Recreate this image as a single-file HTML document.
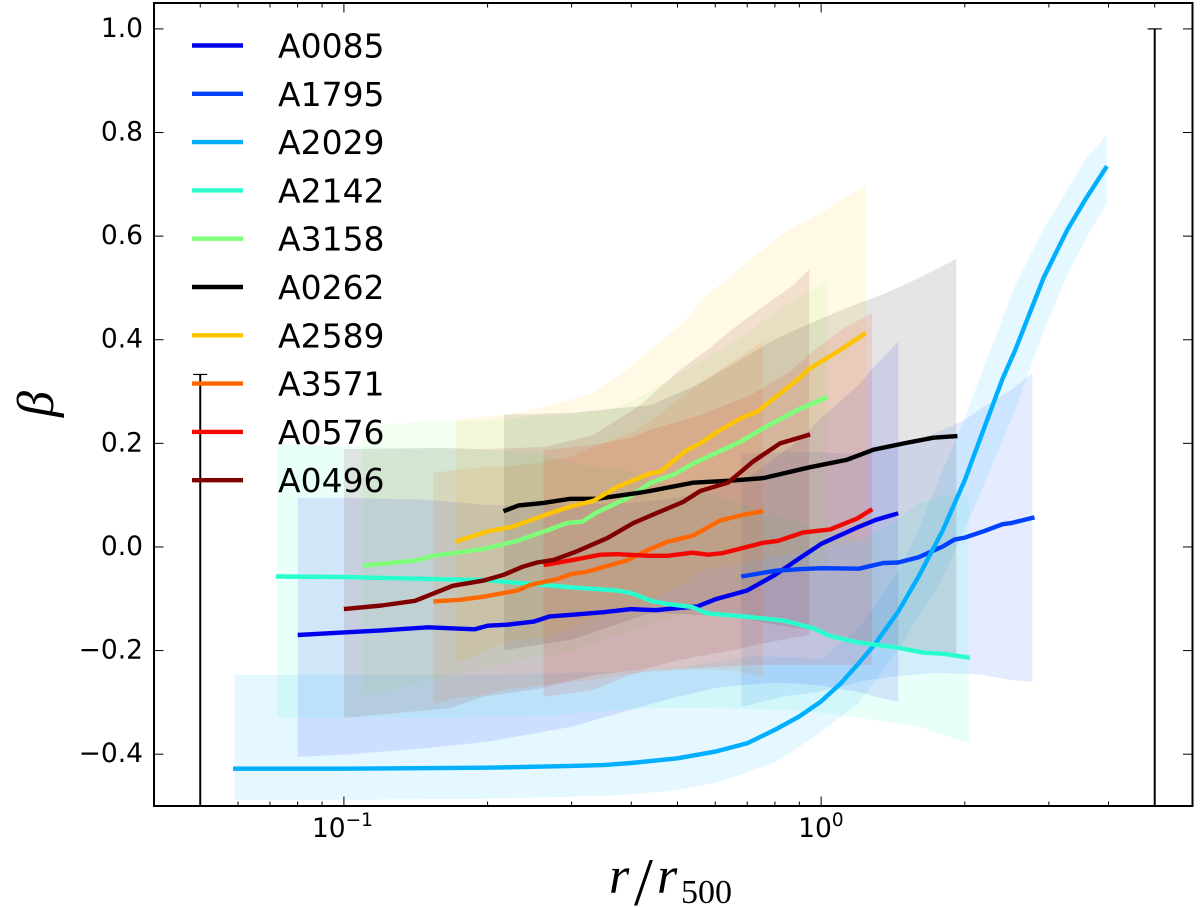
<!DOCTYPE html>
<html>
<head>
<meta charset="utf-8">
<title>Beta profiles</title>
<style>
html,body{margin:0;padding:0;background:#fff;width:1200px;height:907px;overflow:hidden;}
svg{display:block;}
text{font-family:"DejaVu Sans","Liberation Sans",sans-serif;fill:#000;}
.math{font-family:"Liberation Serif",serif;font-style:italic;}
.sub{font-family:"Liberation Serif",serif;font-style:normal;}
</style>
</head>
<body>
<svg id="chart" xmlns="http://www.w3.org/2000/svg" width="1200" height="907" viewBox="0 0 1200 907">
<defs><clipPath id="plot-clip"><rect x="154" y="3" width="1038.5" height="803"/></clipPath></defs>
<g id="bands" clip-path="url(#plot-clip)"></g>
<g id="errorbars" clip-path="url(#plot-clip)"></g>
<g id="lines" clip-path="url(#plot-clip)"></g>
<g id="axes"></g>
<g id="legend"></g>
<text class="math" y="893" font-size="52"><tspan x="609">r</tspan><tspan class="sub" x="634" dy="12" font-size="68">/</tspan><tspan x="657" dy="-12">r</tspan><tspan class="sub" x="681" dy="10" font-size="34">500</tspan></text>
<text class="math" font-size="52" transform="translate(53,404) rotate(-90)" text-anchor="middle">β</text>
</svg>
<script>
const xTicksMajor = [0.1, 1];
const xTickExponents = ["\u22121", "0"];
const xTicksMinor = [0.05, 0.06, 0.07, 0.08, 0.09, 0.2, 0.3, 0.4, 0.5, 0.6, 0.7, 0.8, 0.9, 2, 3, 4, 5, 6];
const yTicks = [-0.4, -0.2, 0, 0.2, 0.4, 0.6, 0.8, 1.0];
const yTickLabels = ["\u22120.4", "\u22120.2", "0.0", "0.2", "0.4", "0.6", "0.8", "1.0"];

const seriesNames = ["A0085", "A1795", "A2029", "A2142", "A3158", "A0262", "A2589", "A3571", "A0576", "A0496"];

const a0085R = [0.08,0.1,0.12,0.15,0.188,0.2,0.22,0.25,0.27,0.3,0.35,0.4,0.45,0.5,0.55,0.6,0.7,0.8,0.9,1.0,1.2,1.3,1.45];
const a0085Beta = [-0.170,-0.165,-0.161,-0.155,-0.159,-0.152,-0.150,-0.144,-0.134,-0.131,-0.126,-0.120,-0.122,-0.118,-0.115,-0.101,-0.084,-0.054,-0.022,0.006,0.039,0.052,0.065];
const a0085BandR = [0.08,0.1,0.15,0.2,0.3,0.4,0.5,0.6,0.7,0.8,0.9,1,1.2,1.3,1.45];
const a0085Hi = [0.095,0.095,0.091,0.081,0.081,0.085,0.095,0.110,0.133,0.172,0.206,0.249,0.313,0.351,0.396];
const a0085Lo = [-0.405,-0.401,-0.388,-0.376,-0.347,-0.314,-0.289,-0.272,-0.266,-0.262,-0.264,-0.268,-0.280,-0.289,-0.299];

const a1795R = [0.68,0.8,0.9,1.0,1.2,1.35,1.45,1.6,1.7,1.8,1.9,2.0,2.2,2.4,2.5,2.8];
const a1795Beta = [-0.057,-0.046,-0.043,-0.041,-0.042,-0.031,-0.030,-0.020,-0.009,0.001,0.014,0.018,0.031,0.044,0.046,0.057];
const a1795BandR = [0.68,0.83,0.98,1.25,1.45,1.72,2,2.18,2.5,2.77];
const a1795Hi = [0.181,0.183,0.183,0.179,0.195,0.218,0.245,0.270,0.303,0.336];
const a1795Lo = [-0.309,-0.289,-0.280,-0.257,-0.249,-0.243,-0.245,-0.247,-0.257,-0.260];

const a2029R = [0.0586,0.1,0.2,0.3,0.35,0.4,0.5,0.6,0.7,0.8,0.9,1.0,1.1,1.2,1.3,1.45,1.6,1.8,2.0,2.2,2.4,2.55,2.93,3.28,3.59,3.97];
const a2029Beta = [-0.428,-0.428,-0.426,-0.4226,-0.421,-0.417,-0.408,-0.395,-0.379,-0.353,-0.327,-0.298,-0.263,-0.224,-0.186,-0.125,-0.057,0.033,0.129,0.232,0.325,0.380,0.521,0.612,0.673,0.735];
const a2029BandR = [0.059,0.1,0.2,0.3,0.4,0.5,0.6,0.7,0.8,0.9,1,1.2,1.45,1.6,1.8,2,2.2,2.55,2.93,3.28,3.59,3.97];
const a2029Hi = [-0.247,-0.247,-0.247,-0.243,-0.239,-0.233,-0.222,-0.212,-0.212,-0.214,-0.216,-0.156,-0.048,0.033,0.149,0.249,0.351,0.505,0.615,0.689,0.751,0.795];
const a2029Lo = [-0.488,-0.488,-0.486,-0.482,-0.478,-0.469,-0.455,-0.436,-0.415,-0.386,-0.357,-0.301,-0.199,-0.135,-0.058,0.033,0.123,0.264,0.419,0.525,0.596,0.664];

const a2142R = [0.072,0.1,0.154,0.196,0.262,0.3,0.374,0.4,0.44,0.467,0.537,0.577,0.687,0.833,0.963,1.044,1.19,1.44,1.64,1.80,2.05];
const a2142Beta = [-0.057,-0.058,-0.062,-0.064,-0.073,-0.078,-0.084,-0.089,-0.104,-0.109,-0.116,-0.128,-0.134,-0.142,-0.157,-0.172,-0.184,-0.194,-0.204,-0.206,-0.214];
const a2142BandR = [0.0724,0.1,0.15,0.2,0.262,0.3,0.4,0.44,0.6,0.8,1,1.2,1.4,1.6,1.8,2.04];
const a2142Hi = [0.199,0.193,0.191,0.187,0.178,0.162,0.145,0.129,0.100,0.062,0.033,0.014,0.042,0.085,0.098,0.102];
const a2142Lo = [-0.330,-0.330,-0.330,-0.328,-0.326,-0.322,-0.313,-0.311,-0.311,-0.314,-0.320,-0.330,-0.339,-0.347,-0.363,-0.378];

const a3158R = [0.1095,0.142,0.154,0.196,0.231,0.27,0.293,0.316,0.339,0.392,0.438,0.494,0.539,0.677,0.756,0.89,1.03];
const a3158Beta = [-0.036,-0.026,-0.017,-0.004,0.012,0.034,0.046,0.049,0.067,0.094,0.123,0.141,0.161,0.203,0.229,0.264,0.289];
const a3158BandR = [0.1095,0.15,0.2,0.25,0.3,0.35,0.4,0.5,0.6,0.7,0.8,0.9,1.03];
const a3158Hi = [0.233,0.243,0.245,0.251,0.257,0.264,0.280,0.332,0.374,0.413,0.453,0.482,0.515];
const a3158Lo = [-0.289,-0.257,-0.233,-0.214,-0.203,-0.179,-0.160,-0.135,-0.108,-0.083,-0.060,-0.044,-0.031];

const a0262R = [0.216,0.232,0.262,0.298,0.339,0.398,0.438,0.539,0.645,0.756,0.948,1.13,1.29,1.49,1.72,1.93];
const a0262Beta = [0.069,0.080,0.085,0.093,0.093,0.102,0.108,0.124,0.128,0.133,0.154,0.168,0.188,0.200,0.211,0.214];
const a0262BandR = [0.2166,0.3,0.44,0.55,0.7,0.8,0.95,1.1,1.2,1.35,1.6,1.92];
const a0262Hi = [0.255,0.259,0.274,0.313,0.369,0.401,0.432,0.457,0.471,0.488,0.519,0.556];
const a0262Lo = [-0.199,-0.179,-0.127,-0.131,-0.139,-0.150,-0.160,-0.172,-0.179,-0.193,-0.203,-0.208];

const a2589R = [0.171,0.2,0.225,0.27,0.298,0.333,0.374,0.438,0.46,0.523,0.558,0.605,0.687,0.734,0.89,0.948,1.096,1.24];
const a2589Beta = [0.010,0.030,0.039,0.065,0.078,0.089,0.116,0.142,0.145,0.187,0.200,0.222,0.251,0.261,0.322,0.345,0.380,0.413];
const a2589BandR = [0.172,0.2166,0.262,0.333,0.398,0.438,0.527,0.566,0.632,0.72,0.851,1.005,1.123,1.243];
const a2589Hi = [0.247,0.255,0.270,0.297,0.347,0.380,0.442,0.482,0.515,0.560,0.612,0.646,0.675,0.698];
const a2589Lo = [-0.224,-0.185,-0.174,-0.141,-0.122,-0.102,-0.064,-0.044,-0.037,-0.027,-0.015,-0.002,0.006,0.014];

const a3571R = [0.154,0.175,0.196,0.231,0.246,0.28,0.3,0.323,0.392,0.438,0.476,0.539,0.614,0.687,0.756];
const a3571Beta = [-0.105,-0.102,-0.096,-0.084,-0.073,-0.062,-0.052,-0.048,-0.026,-0.004,0.010,0.022,0.051,0.062,0.069];
const a3571BandR = [0.154,0.172,0.196,0.2166,0.262,0.298,0.333,0.398,0.438,0.55,0.65,0.755];
const a3571Hi = [0.143,0.149,0.154,0.154,0.164,0.174,0.193,0.220,0.241,0.313,0.357,0.397];
const a3571Lo = [-0.303,-0.291,-0.286,-0.276,-0.266,-0.260,-0.257,-0.245,-0.241,-0.237,-0.237,-0.251];

const a0576R = [0.262,0.298,0.345,0.374,0.438,0.476,0.537,0.58,0.62,0.756,0.813,0.917,1.044,1.19,1.28];
const a0576Beta = [-0.035,-0.026,-0.015,-0.014,-0.017,-0.017,-0.011,-0.015,-0.012,0.008,0.012,0.028,0.034,0.055,0.073];
const a0576BandR = [0.262,0.333,0.398,0.438,0.558,0.71,0.861,0.966,1.123,1.279];
const a0576Hi = [0.187,0.197,0.210,0.226,0.255,0.293,0.338,0.380,0.424,0.451];
const a0576Lo = [-0.289,-0.276,-0.247,-0.237,-0.233,-0.228,-0.228,-0.228,-0.228,-0.228];

const a0496R = [0.1,0.12,0.141,0.169,0.196,0.216,0.237,0.254,0.275,0.305,0.356,0.404,0.438,0.514,0.558,0.638,0.72,0.82,0.948];
const a0496Beta = [-0.120,-0.113,-0.104,-0.075,-0.065,-0.054,-0.038,-0.030,-0.025,-0.010,0.017,0.046,0.060,0.087,0.108,0.124,0.165,0.200,0.217];
const a0496BandR = [0.1,0.167,0.196,0.262,0.333,0.418,0.506,0.577,0.657,0.749,0.865,0.944];
const a0496Hi = [0.189,0.191,0.189,0.193,0.216,0.274,0.342,0.380,0.423,0.461,0.502,0.536];
const a0496Lo = [-0.330,-0.311,-0.289,-0.272,-0.247,-0.237,-0.218,-0.208,-0.199,-0.187,-0.176,-0.170];

const errorBarR = [0.05, 5];
const errorBarHi = [0.333, 1.0];
const errorBarLo = [-0.5, -0.5];

const seriesColors = ["#0000f1", "#0040ff", "#00b0ff", "#29ffce", "#7dff7a", "#000000", "#ffc400", "#ff6800", "#f10800", "#800000"];
const seriesR = [a0085R, a1795R, a2029R, a2142R, a3158R, a0262R, a2589R, a3571R, a0576R, a0496R];
const seriesBeta = [a0085Beta, a1795Beta, a2029Beta, a2142Beta, a3158Beta, a0262Beta, a2589Beta, a3571Beta, a0576Beta, a0496Beta];
const seriesBandR = [a0085BandR, a1795BandR, a2029BandR, a2142BandR, a3158BandR, a0262BandR, a2589BandR, a3571BandR, a0576BandR, a0496BandR];
const seriesHi = [a0085Hi, a1795Hi, a2029Hi, a2142Hi, a3158Hi, a0262Hi, a2589Hi, a3571Hi, a0576Hi, a0496Hi];
const seriesLo = [a0085Lo, a1795Lo, a2029Lo, a2142Lo, a3158Lo, a0262Lo, a2589Lo, a3571Lo, a0576Lo, a0496Lo];

const NS = "http://www.w3.org/2000/svg";
const plot = {left: 154, right: 1192.5, top: 3, bottom: 806};
const xMin = 0.04, xMax = 6, yMin = -0.5, yMax = 1.05;

function xScale(r) {
  return plot.left + (Math.log10(r) - Math.log10(xMin)) / (Math.log10(xMax) - Math.log10(xMin)) * (plot.right - plot.left);
}
function yScale(b) {
  return plot.bottom - (b - yMin) / (yMax - yMin) * (plot.bottom - plot.top);
}
function make(tag, attrs, parent) {
  const el = document.createElementNS(NS, tag);
  for (const k in attrs) el.setAttribute(k, attrs[k]);
  parent.appendChild(el);
  return el;
}
function tickLine(x1, y1, x2, y2, w, name, parent) {
  const el = make("line", {x1: x1, y1: y1, x2: x2, y2: y2, stroke: "#000", "stroke-width": w}, parent);
  
  
}

const bandsG = document.getElementById("bands");
const linesG = document.getElementById("lines");
const errG = document.getElementById("errorbars");
const axesG = document.getElementById("axes");
const legendG = document.getElementById("legend");

seriesNames.forEach(function (name, i) {
  const rr = seriesBandR[i];
  const hi = seriesHi[i];
  const lo = seriesLo[i];
  const top = rr.map(function (r, j) { return xScale(r).toFixed(1) + "," + yScale(hi[j]).toFixed(1); });
  const bot = rr.map(function (r, j) { return xScale(r).toFixed(1) + "," + yScale(lo[j]).toFixed(1); }).reverse();
  const band = make("polygon", {points: top.concat(bot).join(" "), fill: seriesColors[i], "fill-opacity": 0.1, stroke: "none"}, bandsG);
  
  
});

errorBarR.forEach(function (r, i) {
  const x = xScale(r);
  const bar = make("line", {x1: x, x2: x, y1: yScale(errorBarLo[i]), y2: yScale(errorBarHi[i]), stroke: "#000", "stroke-width": 2}, errG);
  
  
  const cap = make("line", {x1: x - 7, x2: x + 7, y1: yScale(errorBarHi[i]), y2: yScale(errorBarHi[i]), stroke: "#000", "stroke-width": 1.2}, errG);
  
  
});

seriesNames.forEach(function (name, i) {
  const rr = seriesR[i];
  const bb = seriesBeta[i];
  const pts = rr.map(function (r, j) { return xScale(r).toFixed(1) + "," + yScale(bb[j]).toFixed(1); }).join(" ");
  const line = make("polyline", {points: pts, fill: "none", stroke: seriesColors[i], "stroke-width": 4.4, "stroke-linejoin": "round"}, linesG);
  
  
});

const frame = make("rect", {x: plot.left, y: plot.top, width: plot.right - plot.left, height: plot.bottom - plot.top, fill: "none", stroke: "#000", "stroke-width": 2}, axesG);



xTicksMinor.forEach(function (v) {
  const x = xScale(v);
  tickLine(x, plot.bottom, x, plot.bottom - 4.5, 1, 'x-minor-tick', axesG);
  tickLine(x, plot.top, x, plot.top + 4.5, 1, 'x-minor-tick-top', axesG);
});
xTicksMajor.forEach(function (v, i) {
  const x = xScale(v);
  tickLine(x, plot.bottom, x, plot.bottom - 9.5, 1, 'x-major-tick', axesG);
  tickLine(x, plot.top, x, plot.top + 9.5, 1, 'x-major-tick-top', axesG);
  const label = make("text", {x: x - (i === 0 ? 32 : 23), y: 837, "font-size": 26.5}, axesG);
  
  
  label.textContent = "10";
  const sup = make("tspan", {"font-size": 18.5, dy: -11}, label);
  sup.textContent = xTickExponents[i];
});
yTicks.forEach(function (v, i) {
  const y = yScale(v);
  tickLine(plot.left, y, plot.left + 9.5, y, 1, 'y-tick', axesG);
  tickLine(plot.right, y, plot.right - 9.5, y, 1, 'y-tick-right', axesG);
  const label = make("text", {x: 143, y: y + 8, "font-size": 26.5, "text-anchor": "end"}, axesG);
  
  
  label.textContent = yTickLabels[i];
});

seriesNames.forEach(function (name, i) {
  const y = 45.5 + i * 48.3;
  const entry = make("g", {}, legendG);
  
  
  const handle = make("line", {x1: 192, x2: 243, y1: y, y2: y, stroke: seriesColors[i], "stroke-width": 4.4}, entry);
  
  
  const label = make("text", {x: 278, y: y + 12, "font-size": 33}, entry);
  
  
  label.textContent = name;
});
</script>
</body>
</html>
